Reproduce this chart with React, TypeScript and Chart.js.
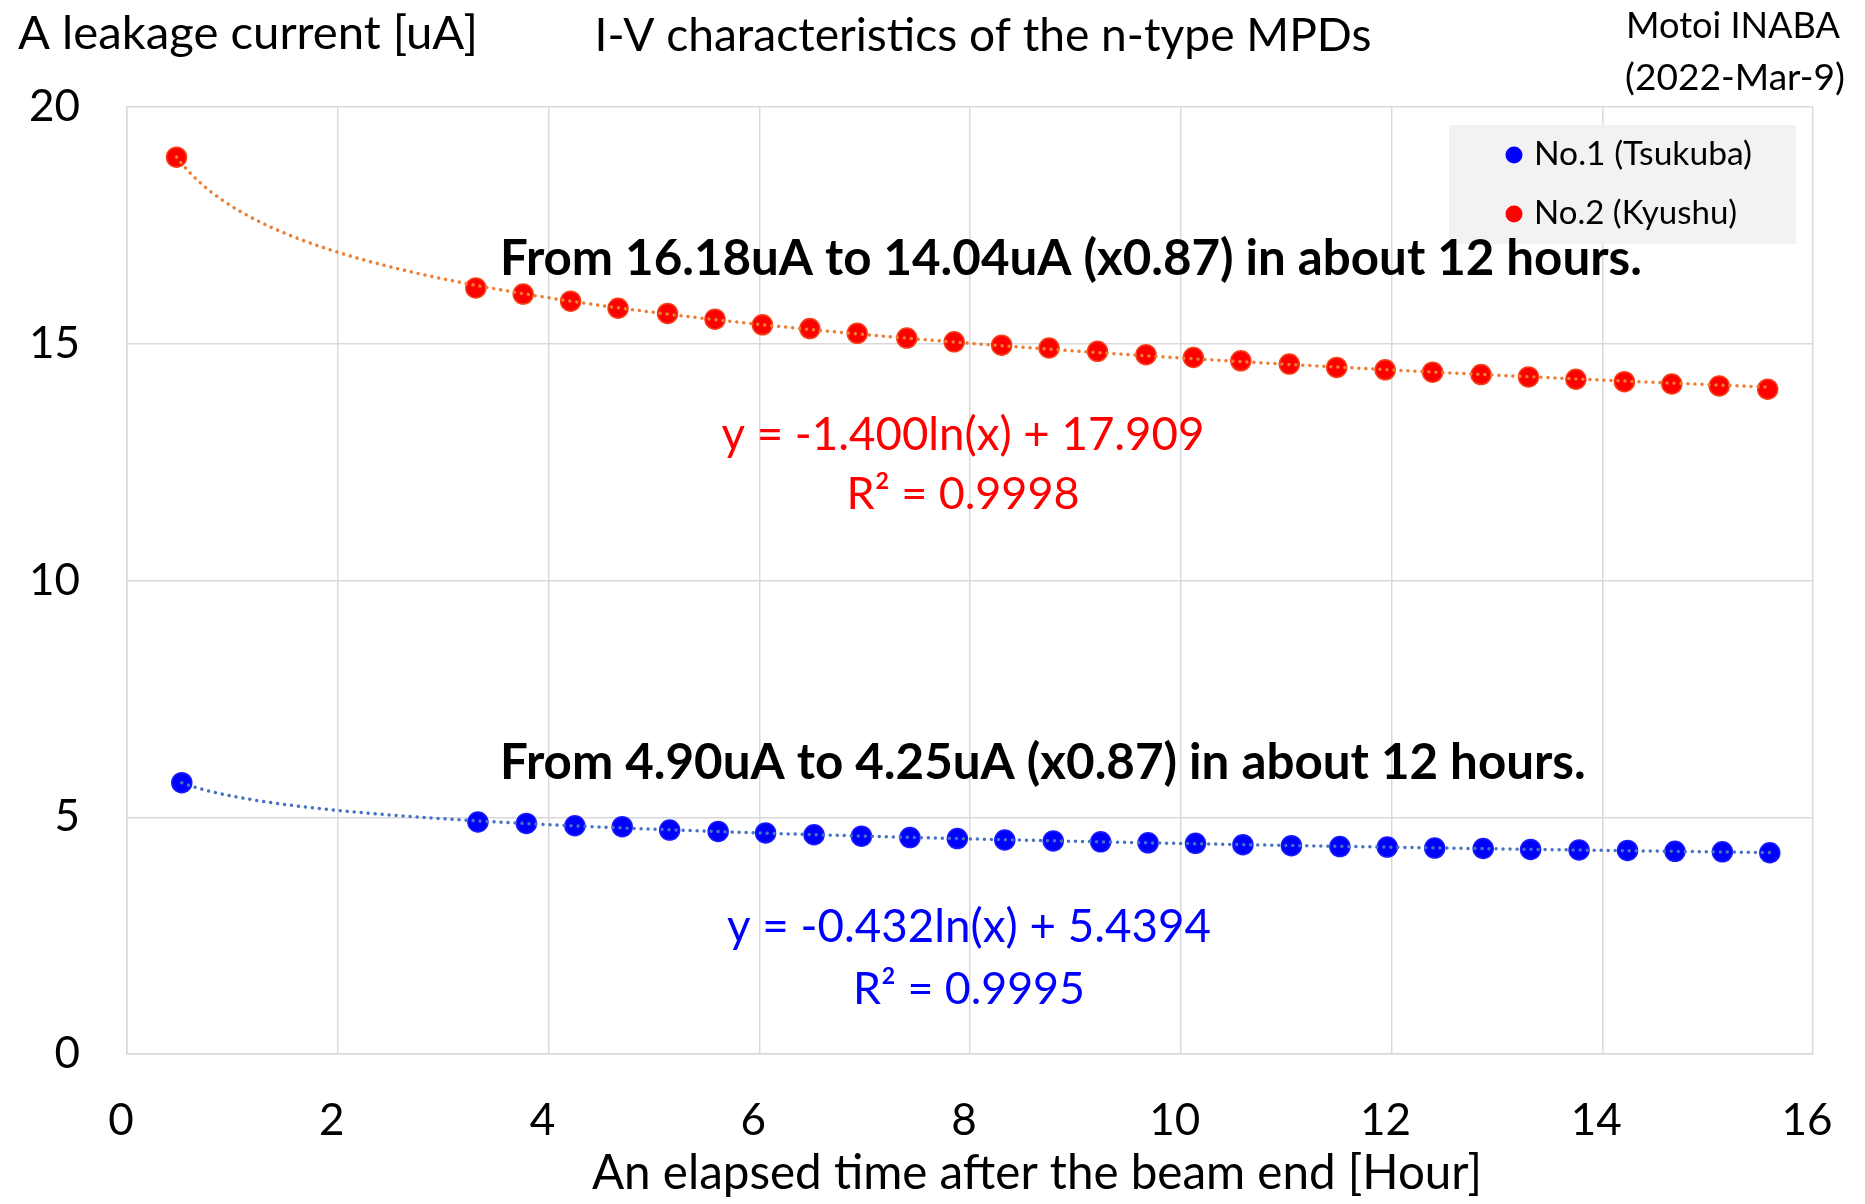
import React, { useEffect, useRef } from "react";
import { Chart, registerables } from "chart.js";

Chart.register(...registerables);

// ---- data (hours after beam end, leakage current in uA) ----
const hoursNo1 = [0.52, 3.33, 3.79, 4.25, 4.70, 5.15, 5.61, 6.06, 6.52, 6.97, 7.43, 7.88, 8.33, 8.79, 9.24, 9.69, 10.14, 10.59, 11.05, 11.51, 11.96, 12.41, 12.87, 13.32, 13.78, 14.24, 14.69, 15.14, 15.59];
const currentNo1 = [5.73, 4.90, 4.87, 4.82, 4.80, 4.73, 4.70, 4.67, 4.63, 4.60, 4.57, 4.55, 4.52, 4.50, 4.48, 4.46, 4.45, 4.42, 4.40, 4.38, 4.37, 4.35, 4.34, 4.32, 4.31, 4.30, 4.28, 4.27, 4.25];
const hoursNo2 = [0.47, 3.31, 3.76, 4.21, 4.66, 5.13, 5.58, 6.03, 6.48, 6.93, 7.40, 7.85, 8.30, 8.75, 9.21, 9.67, 10.12, 10.57, 11.03, 11.48, 11.94, 12.39, 12.85, 13.30, 13.75, 14.21, 14.66, 15.11, 15.57];
const currentNo2 = [18.94, 16.18, 16.05, 15.90, 15.75, 15.64, 15.52, 15.40, 15.32, 15.22, 15.12, 15.04, 14.97, 14.91, 14.84, 14.77, 14.71, 14.64, 14.57, 14.50, 14.45, 14.40, 14.35, 14.30, 14.25, 14.20, 14.15, 14.11, 14.04];

const seriesNames = ["No.1 (Tsukuba)", "No.2 (Kyushu)"];
const xTicks = [0, 2, 4, 6, 8, 10, 12, 14, 16];
const yTicks = [0, 5, 10, 15, 20];

const titleText = "I-V characteristics of the n-type MPDs";
const yTitleText = "A leakage current [uA]";
const xTitleText = "An elapsed time after the beam end [Hour]";
const authorText = "Motoi INABA";
const dateText = "(2022-Mar-9)";
const noteNo2 = "From 16.18uA to 14.04uA (x0.87) in about 12 hours.";
const noteNo1 = "From 4.90uA to 4.25uA (x0.87) in about 12 hours.";
const eqNo2 = "y = -1.400ln(x) + 17.909";
const r2No2 = "R\u00B2 = 0.9998";
const eqNo1 = "y = -0.432ln(x) + 5.4394";
const r2No1 = "R\u00B2 = 0.9995";

const FONT = "Lato, 'Noto Sans', sans-serif";
const BLUE = "#0000FF";
const RED = "#FF0000";
const TREND_BLUE = "#4472C4";
const TREND_ORANGE = "#ED7D31";

function logFit(xs: number[], ys: number[]) {
  const n = xs.length;
  let sx = 0, sy = 0, sxx = 0, sxy = 0;
  for (let i = 0; i < n; i++) {
    const lx = Math.log(xs[i]);
    sx += lx; sy += ys[i]; sxx += lx * lx; sxy += lx * ys[i];
  }
  const a = (n * sxy - sx * sy) / (n * sxx - sx * sx);
  const b = (sy - a * sx) / n;
  return { a, b };
}

function fitText(
  ctx: CanvasRenderingContext2D,
  text: string,
  x: number,
  y: number,
  width: number,
  color: string,
  align: CanvasTextAlign,
  weight = "normal"
) {
  ctx.save();
  ctx.font = `${weight} 100px ${FONT}`;
  const w = ctx.measureText(text).width;
  const size = (100 * width) / w;
  ctx.font = `${weight} ${size.toFixed(2)}px ${FONT}`;
  ctx.fillStyle = color;
  ctx.textAlign = align;
  ctx.textBaseline = "alphabetic";
  ctx.fillText(text, x, y);
  ctx.restore();
}

const trendPlugin = {
  id: "trendlines",
  afterDatasetsDraw(chart: any) {
    const ctx = chart.ctx as CanvasRenderingContext2D;
    const xs = chart.scales.x;
    const ys = chart.scales.y;
    const area = chart.chartArea;
    const sets = [
      { hx: hoursNo1, cy: currentNo1, color: TREND_BLUE },
      { hx: hoursNo2, cy: currentNo2, color: TREND_ORANGE },
    ];
    ctx.save();
    ctx.beginPath();
    ctx.rect(area.left, area.top, area.right - area.left, area.bottom - area.top);
    ctx.clip();
    for (const s of sets) {
      const { a, b } = logFit(s.hx, s.cy);
      const x0 = Math.min(...s.hx);
      const x1 = Math.max(...s.hx);
      ctx.beginPath();
      const steps = 300;
      for (let i = 0; i <= steps; i++) {
        const xv = x0 + ((x1 - x0) * i) / steps;
        const yv = a * Math.log(xv) + b;
        const px = xs.getPixelForValue(xv);
        const py = ys.getPixelForValue(yv);
        if (i === 0) ctx.moveTo(px, py);
        else ctx.lineTo(px, py);
      }
      ctx.strokeStyle = s.color;
      ctx.lineWidth = 3.5;
      ctx.lineCap = "round";
      ctx.setLineDash([0.01, 7]);
      ctx.stroke();
    }
    ctx.restore();
  },
};

const textPlugin = {
  id: "texts",
  afterDraw(chart: any) {
    const ctx = chart.ctx as CanvasRenderingContext2D;
    // header texts
    fitText(ctx, yTitleText, 18, 49, 460, "#000", "left");
    fitText(ctx, titleText, 983, 51, 777, "#000", "center");
    fitText(ctx, authorText, 1840, 38, 214, "#000", "right");
    fitText(ctx, dateText, 1845, 90, 220, "#000", "right");
    // x axis title
    fitText(ctx, xTitleText, 1037, 1189, 890, "#000", "center");
    // legend
    ctx.save();
    ctx.fillStyle = "#F2F2F2";
    ctx.fillRect(1449, 125, 347, 119);
    ctx.fillStyle = BLUE;
    ctx.beginPath();
    ctx.arc(1514, 155, 8.5, 0, Math.PI * 2);
    ctx.fill();
    ctx.fillStyle = RED;
    ctx.beginPath();
    ctx.arc(1514, 214, 8.5, 0, Math.PI * 2);
    ctx.fill();
    ctx.restore();
    fitText(ctx, seriesNames[0], 1534, 165, 218, "#000", "left");
    fitText(ctx, seriesNames[1], 1534, 224, 203, "#000", "left");
    // annotations
    fitText(ctx, noteNo2, 500, 275, 1142, "#000", "left", "bold");
    fitText(ctx, noteNo1, 500, 779, 1086, "#000", "left", "bold");
    fitText(ctx, eqNo2, 963, 450, 483, RED, "center");
    fitText(ctx, r2No2, 963, 509, 233, RED, "center");
    fitText(ctx, eqNo1, 969, 942, 484, BLUE, "center");
    fitText(ctx, r2No1, 969, 1004, 232, BLUE, "center");
  },
};

export default function App() {
  const ref = useRef<HTMLCanvasElement | null>(null);

  useEffect(() => {
    if (!ref.current) return;
    const chart = new Chart(ref.current, {
      type: "scatter",
      data: {
        datasets: [
          {
            label: seriesNames[0],
            data: hoursNo1.map((h, i) => ({ x: h, y: currentNo1[i] })),
            backgroundColor: BLUE,
            borderColor: "#1a1aff",
            pointRadius: 10,
            pointBorderWidth: 1.5,
            showLine: false,
          },
          {
            label: seriesNames[1],
            data: hoursNo2.map((h, i) => ({ x: h, y: currentNo2[i] })),
            backgroundColor: RED,
            borderColor: "#F5401A",
            pointRadius: 10,
            pointBorderWidth: 1.5,
            showLine: false,
          },
        ],
      },
      options: {
        animation: false,
        responsive: false,
        devicePixelRatio: 1,
        layout: { padding: { top: 107, right: 52, left: 0, bottom: 0 } },
        plugins: {
          legend: { display: false },
          tooltip: { enabled: false },
          title: { display: false },
        },
        scales: {
          x: {
            type: "linear",
            min: 0,
            max: 16,
            afterBuildTicks: (scale: any) => {
              scale.ticks = xTicks.map((v) => ({ value: v }));
            },
            afterFit: (scale: any) => {
              scale.height = 150;
              scale.paddingLeft = 0;
              scale.paddingRight = 0;
            },
            ticks: {
              font: { family: FONT, size: 44 },
              color: "#000",
              padding: 40,
              maxRotation: 0,
              labelOffset: -6,
            },
            grid: { color: "#D9D9D9", lineWidth: 1.5, drawTicks: false },
            border: { color: "#D9D9D9", width: 1.5 },
          },
          y: {
            type: "linear",
            min: 0,
            max: 20,
            afterBuildTicks: (scale: any) => {
              scale.ticks = yTicks.map((v) => ({ value: v }));
            },
            afterFit: (scale: any) => {
              scale.width = 127;
              scale.paddingTop = 0;
              scale.paddingBottom = 0;
            },
            ticks: {
              font: { family: FONT, size: 44 },
              color: "#000",
              padding: 47,
            },
            grid: { color: "#D9D9D9", lineWidth: 1.5, drawTicks: false },
            border: { color: "#D9D9D9", width: 1.5 },
          },
        },
      },
      plugins: [trendPlugin, textPlugin],
    });
    return () => chart.destroy();
  }, []);

  return (
    <div style={{ position: "absolute", left: 0, top: 0, width: 1865, height: 1204, background: "#fff" }}>
      <canvas ref={ref} width={1865} height={1204} style={{ width: 1865, height: 1204, display: "block" }} />
    </div>
  );
}
